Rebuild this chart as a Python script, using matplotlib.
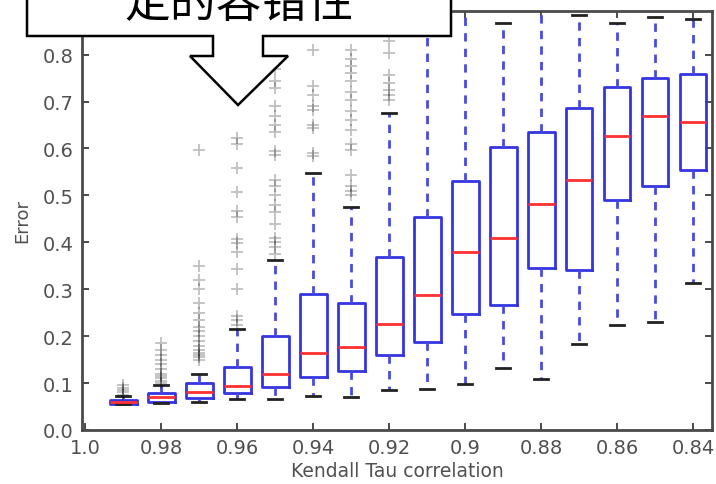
import matplotlib
matplotlib.use('Agg')
import matplotlib.pyplot as plt
from matplotlib.patches import Polygon

# Kendall tau levels, one box per level
taus = [0.99, 0.98, 0.97, 0.96, 0.95, 0.94, 0.93, 0.92,
        0.91, 0.90, 0.89, 0.88, 0.87, 0.86, 0.85, 0.84]
medians = [0.060, 0.070, 0.082, 0.093, 0.120, 0.165, 0.177, 0.226,
           0.287, 0.380, 0.410, 0.481, 0.533, 0.627, 0.669, 0.657]
q1 = [0.056, 0.060, 0.069, 0.078, 0.092, 0.113, 0.125, 0.159,
      0.187, 0.248, 0.266, 0.345, 0.340, 0.490, 0.520, 0.554]
q3 = [0.064, 0.078, 0.101, 0.134, 0.200, 0.290, 0.271, 0.369,
      0.453, 0.531, 0.604, 0.636, 0.686, 0.732, 0.750, 0.758]
whis_lo = [0.055, 0.057, 0.060, 0.066, 0.067, 0.073, 0.071, 0.085,
           0.087, 0.097, 0.132, 0.109, 0.184, 0.224, 0.231, 0.313]
whis_hi = [0.072, 0.096, 0.120, 0.216, 0.362, 0.547, 0.476, 0.675,
           0.841, 0.950, 0.868, 0.950, 0.885, 0.868, 0.880, 0.877]
outliers = [
    [0.075, 0.080, 0.085, 0.090, 0.095],
    [0.100, 0.105, 0.110, 0.115, 0.120, 0.130, 0.140, 0.150, 0.160, 0.170, 0.185],
    [0.150, 0.155, 0.160, 0.165, 0.170, 0.180, 0.190, 0.200, 0.210, 0.220,
     0.235, 0.250, 0.270, 0.300, 0.320, 0.350, 0.597],
    [0.223, 0.234, 0.244, 0.301, 0.344, 0.380, 0.398, 0.408, 0.455, 0.466,
     0.508, 0.558, 0.610, 0.622],
    [0.375, 0.391, 0.400, 0.410, 0.440, 0.465, 0.480, 0.500, 0.520, 0.533,
     0.586, 0.595, 0.636, 0.650, 0.670, 0.690, 0.728, 0.743, 0.770],
    [0.583, 0.590, 0.643, 0.650, 0.682, 0.690, 0.714, 0.733, 0.810],
    [0.500, 0.510, 0.520, 0.543, 0.597, 0.610, 0.640, 0.660, 0.680, 0.704,
     0.720, 0.743, 0.760, 0.775, 0.790, 0.810],
    [0.704, 0.715, 0.725, 0.739, 0.757, 0.803, 0.828],
    [], [], [], [], [], [], [], [],
]

xticks = [1.0, 0.98, 0.96, 0.94, 0.92, 0.90, 0.88, 0.86, 0.84]
xtick_labels = ['1.0', '0.98', '0.96', '0.94', '0.92', '0.9', '0.88', '0.86', '0.84']
yticks = [0.0, 0.1, 0.2, 0.3, 0.4, 0.5, 0.6, 0.7, 0.8]
callout_text = '定的容错性'

W, H = 716, 485
fig = plt.figure(figsize=(W / 100, H / 100), dpi=100)
fig.patch.set_facecolor('white')
ax = fig.add_axes([82 / W, 1 - 431 / H, (712 - 82) / W, (431 - 12) / H])

stats = []
for i in range(len(taus)):
    stats.append({'med': medians[i], 'q1': q1[i], 'q3': q3[i],
                  'whislo': whis_lo[i], 'whishi': whis_hi[i],
                  'fliers': outliers[i]})

blue = '#3535e0'
ax.bxp(stats, positions=taus, widths=0.0071, manage_ticks=False,
       boxprops=dict(color=blue, linewidth=2.0),
       whiskerprops=dict(color='#4a4ae0', linewidth=2.0, linestyle=(0, (3.0, 2.6))),
       capprops=dict(color='#222222', linewidth=2.0),
       medianprops=dict(color='#ff3030', linewidth=2.0),
       flierprops=dict(marker='+', markeredgecolor='black', alpha=0.25,
                       markersize=8, markeredgewidth=1.3, linestyle='none'))

ax.set_xlim(1.0008, 0.835)
ax.set_ylim(0, 0.893)
ax.set_xticks(xticks)
ax.set_xticklabels(xtick_labels)
ax.set_yticks(yticks)
ax.set_yticklabels(['%.1f' % v for v in yticks])

for s in ax.spines.values():
    s.set_color('#4a4a4a')
    s.set_linewidth(2.0)
ax.tick_params(direction='in', top=True, right=True, length=5, width=1.4,
               color='#4a4a4a', labelsize=14, labelcolor='#505050')
ax.tick_params(axis='x', pad=6)
ax.tick_params(axis='y', pad=6)

ax.set_xlabel('Kendall Tau correlation', fontsize=13.5, color='#505050', labelpad=3)
ax.set_ylabel('Error', fontsize=13, color='#505050', labelpad=8)

# down-arrow callout on top of the plot, in pixel coords
pts = [(27, -5), (27, 37), (213, 37), (213, 57), (190, 57), (238, 106),
       (288, 57), (263, 57), (263, 37), (451, 37), (451, -5)]
poly = Polygon([(x / W, 1 - y / H) for x, y in pts], closed=True,
               transform=fig.transFigure, facecolor='white',
               edgecolor='black', linewidth=1.8, zorder=10)
fig.add_artist(poly)
fig.text(239 / W, 1 - 17 / H, callout_text, fontsize=33, ha='center',
         va='baseline', family=['Noto Sans CJK SC', 'DejaVu Sans'],
         color='black', zorder=11)

fig.savefig('out.png', dpi=100)
